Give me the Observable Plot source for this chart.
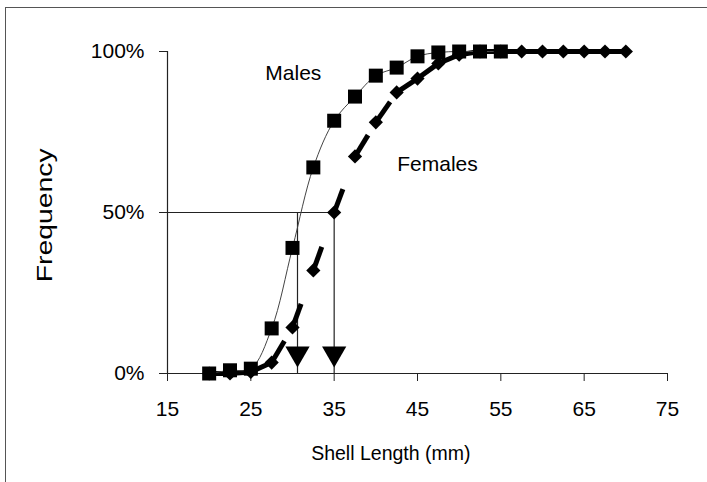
<!DOCTYPE html>
<html>
<head>
<meta charset="utf-8">
<script src="https://cdn.jsdelivr.net/npm/d3@7"></script>
<script src="https://cdn.jsdelivr.net/npm/@observablehq/plot@0.6"></script>
<style>
  html, body { margin: 0; padding: 0; background: #fff; }
  #wrap { position: relative; width: 707px; height: 482px; overflow: hidden; }
  #frame { position: absolute; left: 5px; top: 7px; width: 710px; height: 480px;
           border-left: 1.5px solid #555; border-top: 1.5px solid #555; pointer-events: none; }
  #chart { position: absolute; left: 0; top: 0; }
</style>
</head>
<body>
<div id="wrap"><div id="chart"></div><div id="frame"></div></div>
<script>
// Shell length classes (mm)
const maleLength = [20, 22.5, 25, 27.5, 30, 32.5, 35, 37.5, 40, 42.5, 45, 47.5, 50, 52.5, 55];
// Cumulative frequency, males
const maleFreq = [0, 0.01, 0.015, 0.14, 0.39, 0.64, 0.785, 0.86, 0.925, 0.95, 0.985, 0.997, 1, 1, 1];
const femaleLength = [20, 22.5, 25, 27.5, 30, 32.5, 35, 37.5, 40, 42.5, 45, 47.5, 50, 52.5, 55, 57.5, 60, 62.5, 65, 67.5, 70];
// Cumulative frequency, females
const femaleFreq = [0, 0, 0.005, 0.034, 0.143, 0.32, 0.5, 0.674, 0.78, 0.873, 0.916, 0.963, 0.99, 1, 1, 1, 1, 1, 1, 1, 1];
// Length at 50% maturity
const medianSex = ["Males", "Females"];
const medianLength = [30.6, 35];
const xTicks = [15, 25, 35, 45, 55, 65, 75];
const yTicks = [0, 0.5, 1];

const males = maleLength.map((x, i) => ({x, y: maleFreq[i]}));
const females = femaleLength.map((x, i) => ({x, y: femaleFreq[i]}));
const femaleSegs = d3.pairs(females).map(([a, b]) => ({x1: a.x, y1: a.y, x2: b.x, y2: b.y}));
const medians = medianSex.map((s, i) => ({sex: s, x: medianLength[i]}));

const font = "'Liberation Sans', Arial, Helvetica, sans-serif";

const chart = Plot.plot({
  width: 707,
  height: 482,
  marginLeft: 167,
  marginRight: 40,
  marginTop: 51,
  marginBottom: 109,
  style: {fontFamily: font, color: "black", background: "transparent"},
  x: {domain: [15, 75]},
  y: {domain: [0, 1]},
  marks: [
    Plot.axisY({ticks: yTicks, tickFormat: d => Math.round(d * 100) + "%", tickSize: 8, tickPadding: 15, fontSize: 21, label: null, stroke: "#222"}),
    Plot.axisX({ticks: xTicks, tickSize: 8, tickPadding: 20, fontSize: 21, label: null, stroke: "#222"}),
    Plot.ruleX([15], {stroke: "#222", strokeWidth: 1.2}),
    Plot.ruleY([0], {stroke: "#222", strokeWidth: 1.2}),
    // 50% guide lines
    Plot.ruleY([0.5], {x1: 15, x2: d3.max(medianLength), stroke: "#222", strokeWidth: 1.2}),
    Plot.ruleX(medians, {x: "x", y1: 0.5, y2: 0, stroke: "#222", strokeWidth: 1.2}),
    Plot.dot(medians, {x: "x", y: 0.062, symbol: "triangle", rotate: 180, r: 9, fill: "black", stroke: null}),
    // Females: thick dashed line with diamonds
    Plot.link(femaleSegs, {x1: "x1", y1: "y1", x2: "x2", y2: "y2", stroke: "black", strokeWidth: 5, strokeDasharray: "25,100", strokeLinecap: "butt"}),
    Plot.dot(females, {x: "x", y: "y", symbol: "diamond2", r: 6.4, fill: "black", stroke: null}),
    // Males: thin smooth line with squares
    Plot.line(males, {x: "x", y: "y", curve: "catmull-rom", stroke: "#444", strokeWidth: 1}),
    Plot.dot(males, {x: "x", y: "y", symbol: "square", r: 7.9, fill: "black", stroke: null}),
    // Labels
    Plot.text(["Males"], {x: 30.1, y: 0.932, text: d => d, fontSize: 21, fill: "black"}),
    Plot.text(["Females"], {x: 47.4, y: 0.65, text: d => d, fontSize: 21, fill: "black"}),
    Plot.text(["Frequency"], {frameAnchor: "left", dx: -123, y: 0.283, rotate: -90, textAnchor: "start", text: d => d, fontSize: 22, fill: "black", className: "ylab"}),
    Plot.text(["Shell Length (mm)"], {frameAnchor: "bottom", dy: 86, x: 41.8, text: d => d, fontSize: 19.5, fill: "black"})
  ]
});
document.getElementById("chart").appendChild(chart);
d3.select(chart).selectAll(".ylab text").attr("textLength", 134).attr("lengthAdjust", "spacingAndGlyphs");
</script>
</body>
</html>
